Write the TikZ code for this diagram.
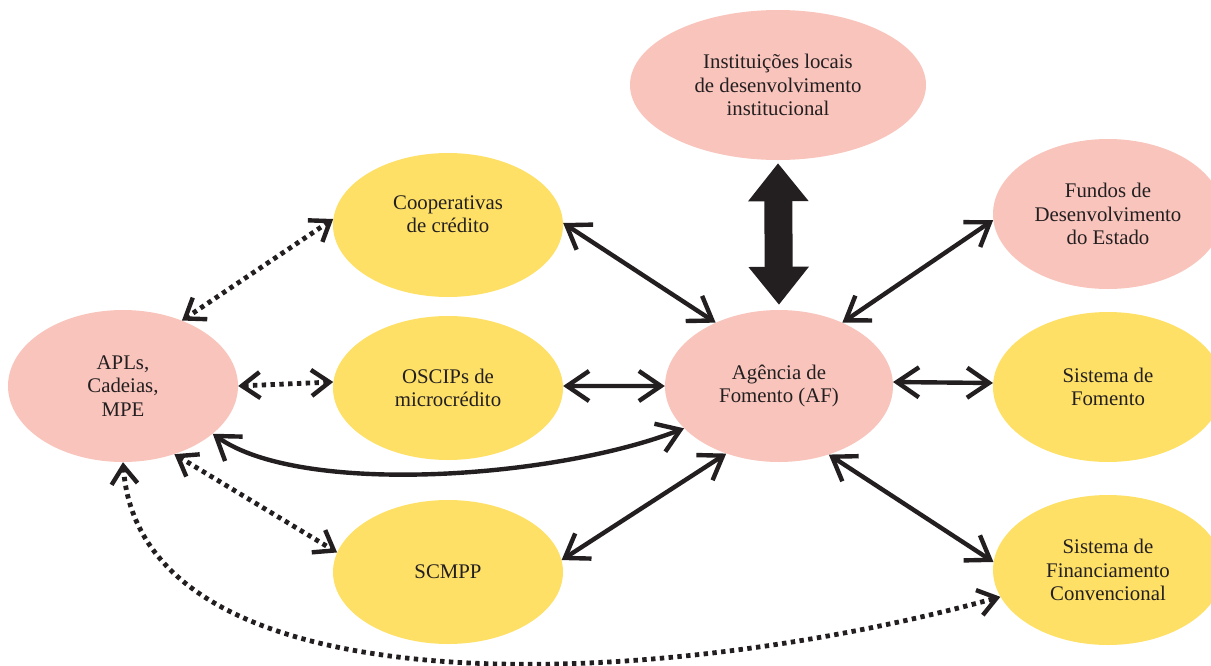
\documentclass[tikz,border=0pt]{standalone}
\usepackage{fontspec}
\setmainfont{Liberation Serif}
\usetikzlibrary{arrows.meta,shapes.geometric}
\definecolor{pinkfill}{HTML}{F8C4BC}
\definecolor{yellowfill}{HTML}{FEE066}
\definecolor{ink}{HTML}{231F20}
\tikzset{
  bubble/.style={ellipse, inner sep=0pt, align=center, text=ink,
    font=\fontsize{20.8}{23.5}\selectfont},
  pinkbub/.style={bubble, fill=pinkfill},
  yellowbub/.style={bubble, fill=yellowfill},
  plaintext/.style={inner sep=0pt, align=center, text=ink,
    font=\fontsize{20.8}{23.5}\selectfont},
  solidlink/.style={draw=ink, line width=4.4pt,
    {Straight Barb[length=22pt,width=30pt,line width=4.4pt]}-{Straight Barb[length=22pt,width=30pt,line width=4.4pt]}},
  dotlink/.style={draw=ink, line width=4.8pt, dash pattern=on 4.4pt off 4.4pt,
    {Straight Barb[length=18pt,width=26pt,line width=4.4pt]}-{Straight Barb[length=18pt,width=26pt,line width=4.4pt]}},
  blocklink/.style={draw=ink, line width=28pt,
    {Triangle[length=38pt,width=58pt]}-{Triangle[length=38pt,width=58pt]}},
}
\begin{document}
\begin{tikzpicture}[x=1pt,y=-1pt]
\useasboundingbox (0,0) rectangle (1211,665);
\node[pinkbub, minimum width=296pt, minimum height=150pt] (inst) at (778,85) {Instituições locais\\de desenvolvimento\\institucional};
\node[yellowbub, minimum width=230pt, minimum height=144pt] (coop) at (448,225) {};
\node[plaintext] (cooptxt) at (448,214) {Cooperativas\\de crédito};
\node[yellowbub, minimum width=230pt, minimum height=144pt] (osc) at (448,388) {OSCIPs de\\microcrédito};
\node[yellowbub, minimum width=230pt, minimum height=144pt] (scm) at (448,572) {SCMPP};
\node[pinkbub, minimum width=230pt, minimum height=152pt] (apl) at (123,386) {APLs,\\Cadeias,\\MPE};
\node[pinkbub, minimum width=228pt, minimum height=152pt] (af) at (779,386) {Agência de\\Fomento (AF)};
\node[pinkbub, minimum width=230pt, minimum height=150pt] (fund) at (1108,214) {Fundos de\\Desenvolvimento\\do Estado};
\node[yellowbub, minimum width=230pt, minimum height=150pt] (sfom) at (1108,387) {Sistema de\\Fomento};
\node[yellowbub, minimum width=230pt, minimum height=150pt] (sfin) at (1108,570) {Sistema de\\Financiamento\\Convencional};

% block arrow
\draw[blocklink, shorten <=3pt, shorten >=5pt] (inst.south) -- (af.north);

% solid links
\draw[solidlink] (coop.1.5) -- (af.135);
\draw[solidlink] (osc.1) -- (af.180);
\draw[solidlink] (scm.6) -- (af.232);
\draw[solidlink] (af.45.5) -- (fund.183);
\draw[solidlink] (af.2) -- (sfom.178.5);
\draw[solidlink] (af.306.5) -- (sfin.176);
\draw[solidlink] (apl.332.7) .. controls +(88,63) and +(-128,50) .. (af.204.8);

% dotted links
\draw[dotlink] (coop.177) -- (apl.48.6);
\draw[dotlink] (apl.0) -- (osc.177.5);
\draw[dotlink] (apl.307) -- (scm.170);
\draw[dotlink] (apl.270) .. controls +(18,252) and +(-348,96) .. (sfin.194.3);
\end{tikzpicture}
\end{document}
